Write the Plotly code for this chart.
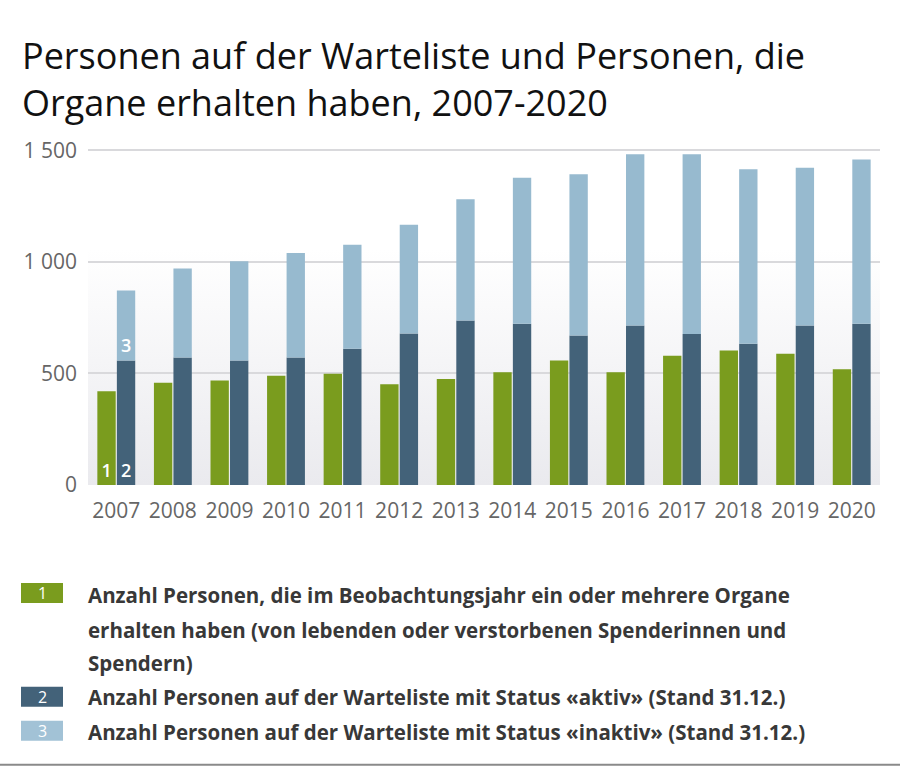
import base64
import plotly.graph_objects as go

years = ["2007", "2008", "2009", "2010", "2011", "2012", "2013",
         "2014", "2015", "2016", "2017", "2018", "2019", "2020"]
received = [420, 458, 468, 489, 498, 451, 475, 505, 558, 505, 579, 603, 588, 519]
active = [558, 571, 558, 571, 610, 679, 737, 722, 670, 715, 677, 633, 715, 722]
total_waiting = [872, 970, 1002, 1039, 1077, 1166, 1280, 1377, 1392, 1482, 1482, 1415, 1422, 1458]
inactive = [t - a for t, a in zip(total_waiting, active)]

ytick_vals = [0, 500, 1000, 1500]
ytick_text = ["0", "500", "1 000", "1 500"]

title_lines = ["Personen auf der Warteliste und Personen, die",
               "Organe erhalten haben, 2007-2020"]
legend_items = [
    ("1", ["Anzahl Personen, die im Beobachtungsjahr ein oder mehrere Organe",
           "erhalten haben (von lebenden oder verstorbenen Spenderinnen und",
           "Spendern)"]),
    ("2", ["Anzahl Personen auf der Warteliste mit Status «aktiv» (Stand 31.12.)"]),
    ("3", ["Anzahl Personen auf der Warteliste mit Status «inaktiv» (Stand 31.12.)"]),
]

GREEN = "#7a9c1e"
DARK = "#436279"
LIGHT = "#97bacf"
legend_colors = [GREEN, DARK, "#a2c2d6"]

W, H = 900, 767
L, R = 88, 20
Y0_PX = 485
Y_TOP = 1510
PX_PER_UNIT = (485 - 150) / 1500.0
T = Y0_PX - Y_TOP * PX_PER_UNIT
B = H - Y0_PX
plot_w = W - L - R
plot_h = Y0_PX - T


def px_x(px):
    return (px - L) / plot_w


def px_y(py):
    return (Y0_PX - py) / plot_h


def first_only(s):
    return [s] + [""] * (len(years) - 1)


label_font = dict(color="white", size=18, family="Open Sans", weight=600)

fig = go.Figure()
fig.add_trace(go.Bar(x=years, y=received, offsetgroup="g1", marker=dict(color=GREEN, line=dict(width=0)),
                     text=first_only("1"), textposition="inside", insidetextanchor="start",
                     textangle=0, textfont=label_font, constraintext="none", hoverinfo="y"))
fig.add_trace(go.Bar(x=years, y=active, offsetgroup="g2", marker=dict(color=DARK, line=dict(width=0)),
                     text=first_only("2"), textposition="inside", insidetextanchor="start",
                     textangle=0, textfont=label_font, constraintext="none", hoverinfo="y"))
fig.add_trace(go.Bar(x=years, y=inactive, base=active, offsetgroup="g2",
                     marker=dict(color=LIGHT, line=dict(width=0)),
                     text=first_only("3"), textposition="inside", insidetextanchor="start",
                     textangle=0, textfont=label_font, constraintext="none", hoverinfo="y"))

svg = ('<svg xmlns="http://www.w3.org/2000/svg" width="10" height="100" preserveAspectRatio="none">'
       '<defs><linearGradient id="g" x1="0" y1="0" x2="0" y2="1">'
       '<stop offset="0" stop-color="#ffffff"/><stop offset="0.3" stop-color="#ffffff"/>'
       '<stop offset="1" stop-color="#eaeaee"/></linearGradient></defs>'
       '<rect width="10" height="100" fill="url(#g)"/></svg>')
svg_uri = "data:image/svg+xml;base64," + base64.b64encode(svg.encode()).decode()

annotations = [dict(xref="paper", yref="paper", x=px_x(20), y=px_y(79),
                    xanchor="left", yanchor="middle", showarrow=False, align="left",
                    text="<br>".join(title_lines),
                    font=dict(family="Open Sans", size=36, weight=500, color="#111111"))]

shapes = []
sq_rows = [593, 697, 731]
text_rows = [[595, 630, 663], [697], [732]]
for (num, lines), col, sy, trows in zip(legend_items, legend_colors, sq_rows, text_rows):
    shapes.append(dict(type="rect", xref="paper", yref="paper",
                       x0=px_x(21), x1=px_x(63), y0=px_y(sy - 10), y1=px_y(sy + 10),
                       fillcolor=col, line=dict(width=0)))
    annotations.append(dict(xref="paper", yref="paper", x=px_x(42), y=px_y(sy),
                            xanchor="center", yanchor="middle", showarrow=False, text=num,
                            font=dict(family="Open Sans", size=16, color="white")))
    for ln, ty in zip(lines, trows):
        annotations.append(dict(xref="paper", yref="paper", x=px_x(86), y=px_y(ty),
                                xanchor="left", yanchor="middle", showarrow=False, text=ln,
                                font=dict(family="Open Sans", size=20.5, weight=700, color="#383838")))

shapes.append(dict(type="line", xref="paper", yref="paper", x0=px_x(0), x1=px_x(W),
                   y0=px_y(765), y1=px_y(765), line=dict(color="#8a8a8a", width=2)))

fig.update_layout(
    width=W, height=H,
    margin=dict(l=L, r=R, t=T, b=B, pad=0),
    paper_bgcolor="white", plot_bgcolor="rgba(0,0,0,0)",
    barmode="group", bargap=0.31, bargroupgap=0.06,
    showlegend=False,
    font=dict(family="Open Sans", color="#666666"),
    images=[dict(source=svg_uri, xref="paper", yref="paper", x=0, y=1, sizex=1, sizey=1,
                 xanchor="left", yanchor="top", sizing="stretch", layer="below")],
    annotations=annotations, shapes=shapes,
)
fig.update_xaxes(type="category", showgrid=False, showline=False, zeroline=False,
                 tickfont=dict(size=21, color="#666666"), ticks="", ticklabelstandoff=11)
fig.update_yaxes(range=[0, Y_TOP], tickvals=ytick_vals, ticktext=ytick_text,
                 showgrid=True, gridcolor="#d9d9dc", gridwidth=1.5, zeroline=False, showline=False,
                 tickfont=dict(size=21, color="#666666"), ticks="", ticklabelstandoff=10)

fig.write_html("out.html", config={"displayModeBar": False},
               post_script="document.body.style.margin='0';")
